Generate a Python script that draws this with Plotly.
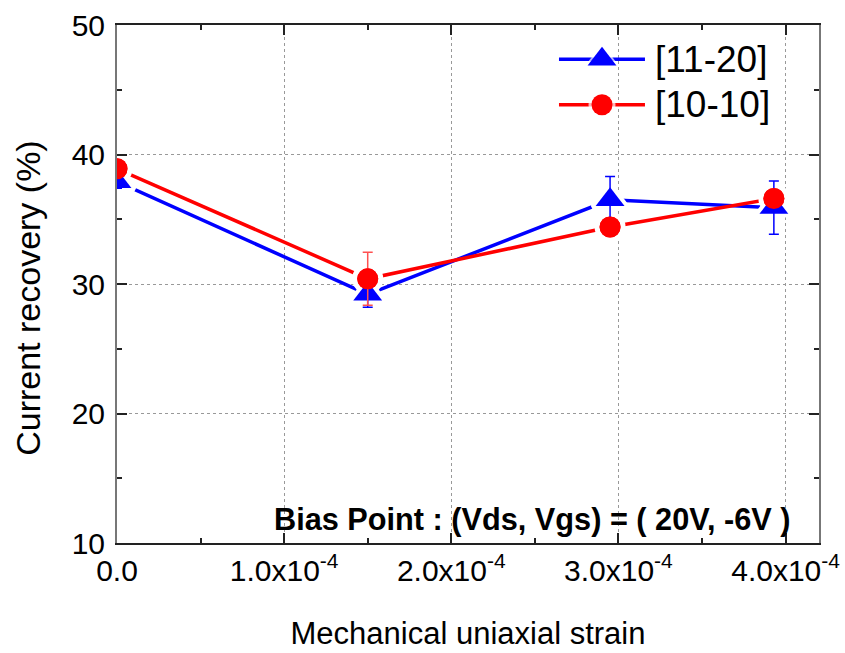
import plotly.graph_objects as go

# ---- data ----
strain = [0.0, 1.5e-4, 2.95e-4, 3.93e-4]
rec_1120 = [37.9, 29.2, 36.5, 35.9]
err_1120 = [0.5, 1.0, 1.8, 2.05]
rec_1010 = [38.9, 30.4, 34.4, 36.6]
err_1010 = [0.4, 2.05, 0.5, 0.5]

series_names = ["[11-20]", "[10-10]"]

x_tickvals = [0.0, 1e-4, 2e-4, 3e-4, 4e-4]
x_ticktext = ["0.0", "1.0x10<sup>-4</sup>", "2.0x10<sup>-4</sup>",
              "3.0x10<sup>-4</sup>", "4.0x10<sup>-4</sup>"]
y_tickvals = [10, 20, 30, 40, 50]

BLUE = "#0000ff"
RED = "#ff0000"
FONT = "Liberation Sans, Arial, sans-serif"

fig = go.Figure()

# line + haloed markers (white halo gives the gap around markers)
fig.add_trace(go.Scatter(
    x=strain, y=rec_1120, mode="lines+markers", name=series_names[0], showlegend=False,
    line=dict(color=BLUE, width=3.5),
    marker=dict(symbol="triangle-up", size=30, color=BLUE,
                line=dict(color="white", width=5)),
))
fig.add_trace(go.Scatter(
    x=strain, y=rec_1010, mode="lines+markers", name=series_names[1], showlegend=False,
    line=dict(color=RED, width=3.5),
    marker=dict(symbol="circle", size=26, color=RED,
                line=dict(color="white", width=5)),
))
# clean markers on top, with error bars
fig.add_trace(go.Scatter(
    x=strain, y=rec_1120, mode="markers", showlegend=False,
    marker=dict(symbol="triangle-up", size=25, color=BLUE),
    error_y=dict(type="data", array=err_1120, color=BLUE, thickness=1.5, width=5),
))
fig.add_trace(go.Scatter(
    x=strain, y=rec_1010, mode="markers", showlegend=False,
    marker=dict(symbol="circle", size=21, color=RED),
    error_y=dict(type="data", array=err_1010, color="#ff5050", thickness=1.5, width=5),
))

# ---- custom legend (drawn on a hidden overlay axis spanning the plot area) ----
leg_rows = [0.934, 0.846]
leg_x = [0.6296, 0.6909, 0.7521]
leg_text_x = 0.7635
leg_styles = [(BLUE, "triangle-up", 31, 25), (RED, "circle", 27, 21)]
for name, ry, (col, sym, halo, sz) in zip(series_names, leg_rows, leg_styles):
    fig.add_trace(go.Scatter(
        x=leg_x, y=[ry] * 3, xaxis="x2", yaxis="y2", mode="lines+markers",
        showlegend=False, hoverinfo="skip",
        line=dict(color=col, width=3.5),
        marker=dict(symbol=sym, size=[0, halo, 0], color="white",
                    line=dict(color="white", width=0)),
    ))
    fig.add_trace(go.Scatter(
        x=[leg_x[1]], y=[ry], xaxis="x2", yaxis="y2", mode="markers",
        showlegend=False, hoverinfo="skip",
        marker=dict(symbol=sym, size=sz, color=col, opacity=1),
    ))
    fig.add_annotation(x=leg_text_x, y=ry, xref="paper", yref="paper",
                       xanchor="left", yanchor="middle", showarrow=False,
                       text=name, font=dict(family=FONT, size=37, color="black"))

fig.add_annotation(
    x=0.962, y=0.045, xref="paper", yref="paper", xanchor="right", yanchor="middle",
    text="<b>Bias Point : (Vds, Vgs) = ( 20V, -6V )</b>", showarrow=False,
    font=dict(family=FONT, size=30.7, color="black"),
)
# y-axis title
fig.add_annotation(
    x=-0.127, y=0.473, xref="paper", yref="paper", xanchor="center", yanchor="middle",
    text="Current recovery (%)", textangle=-90, showarrow=False,
    font=dict(family=FONT, size=34, color="black"),
)

fig.update_layout(
    width=845, height=653,
    margin=dict(l=117, r=26, t=25, b=110, autoexpand=False),
    paper_bgcolor="white", plot_bgcolor="white",
    font=dict(family=FONT, size=30, color="black"),
    showlegend=False,
    xaxis=dict(
        range=[0, 4.2e-4], tickmode="array", tickvals=x_tickvals, ticktext=x_ticktext,
        ticks="inside", ticklen=10, tickwidth=1.5, tickcolor="#222",
        minor=dict(ticks="inside", ticklen=5, tickwidth=1.5, dtick=0.5e-4, tick0=0,
                   tickcolor="#222", showgrid=False),
        showline=True, linecolor="#222", linewidth=2, mirror="ticks",
        showgrid=True, gridcolor="#999", griddash="dot", gridwidth=1,
        zeroline=False, tickfont=dict(size=30), ticklabelstandoff=0,
        title=dict(text="Mechanical uniaxial strain", font=dict(size=31), standoff=36),
    ),
    yaxis=dict(
        range=[10, 50], tickmode="array", tickvals=y_tickvals,
        ticks="inside", ticklen=10, tickwidth=1.5, tickcolor="#222",
        minor=dict(ticks="inside", ticklen=5, tickwidth=1.5, dtick=5, tick0=0,
                   tickcolor="#222", showgrid=False),
        showline=True, linecolor="#777", linewidth=2, mirror="ticks",
        showgrid=True, gridcolor="#999", griddash="dot", gridwidth=1,
        zeroline=False, tickfont=dict(size=30), ticklabelstandoff=4,
    ),
    xaxis2=dict(overlaying="x", range=[0, 1], visible=False, fixedrange=True),
    yaxis2=dict(overlaying="y", range=[0, 1], visible=False, fixedrange=True),
)

fig.write_html("out.html")
